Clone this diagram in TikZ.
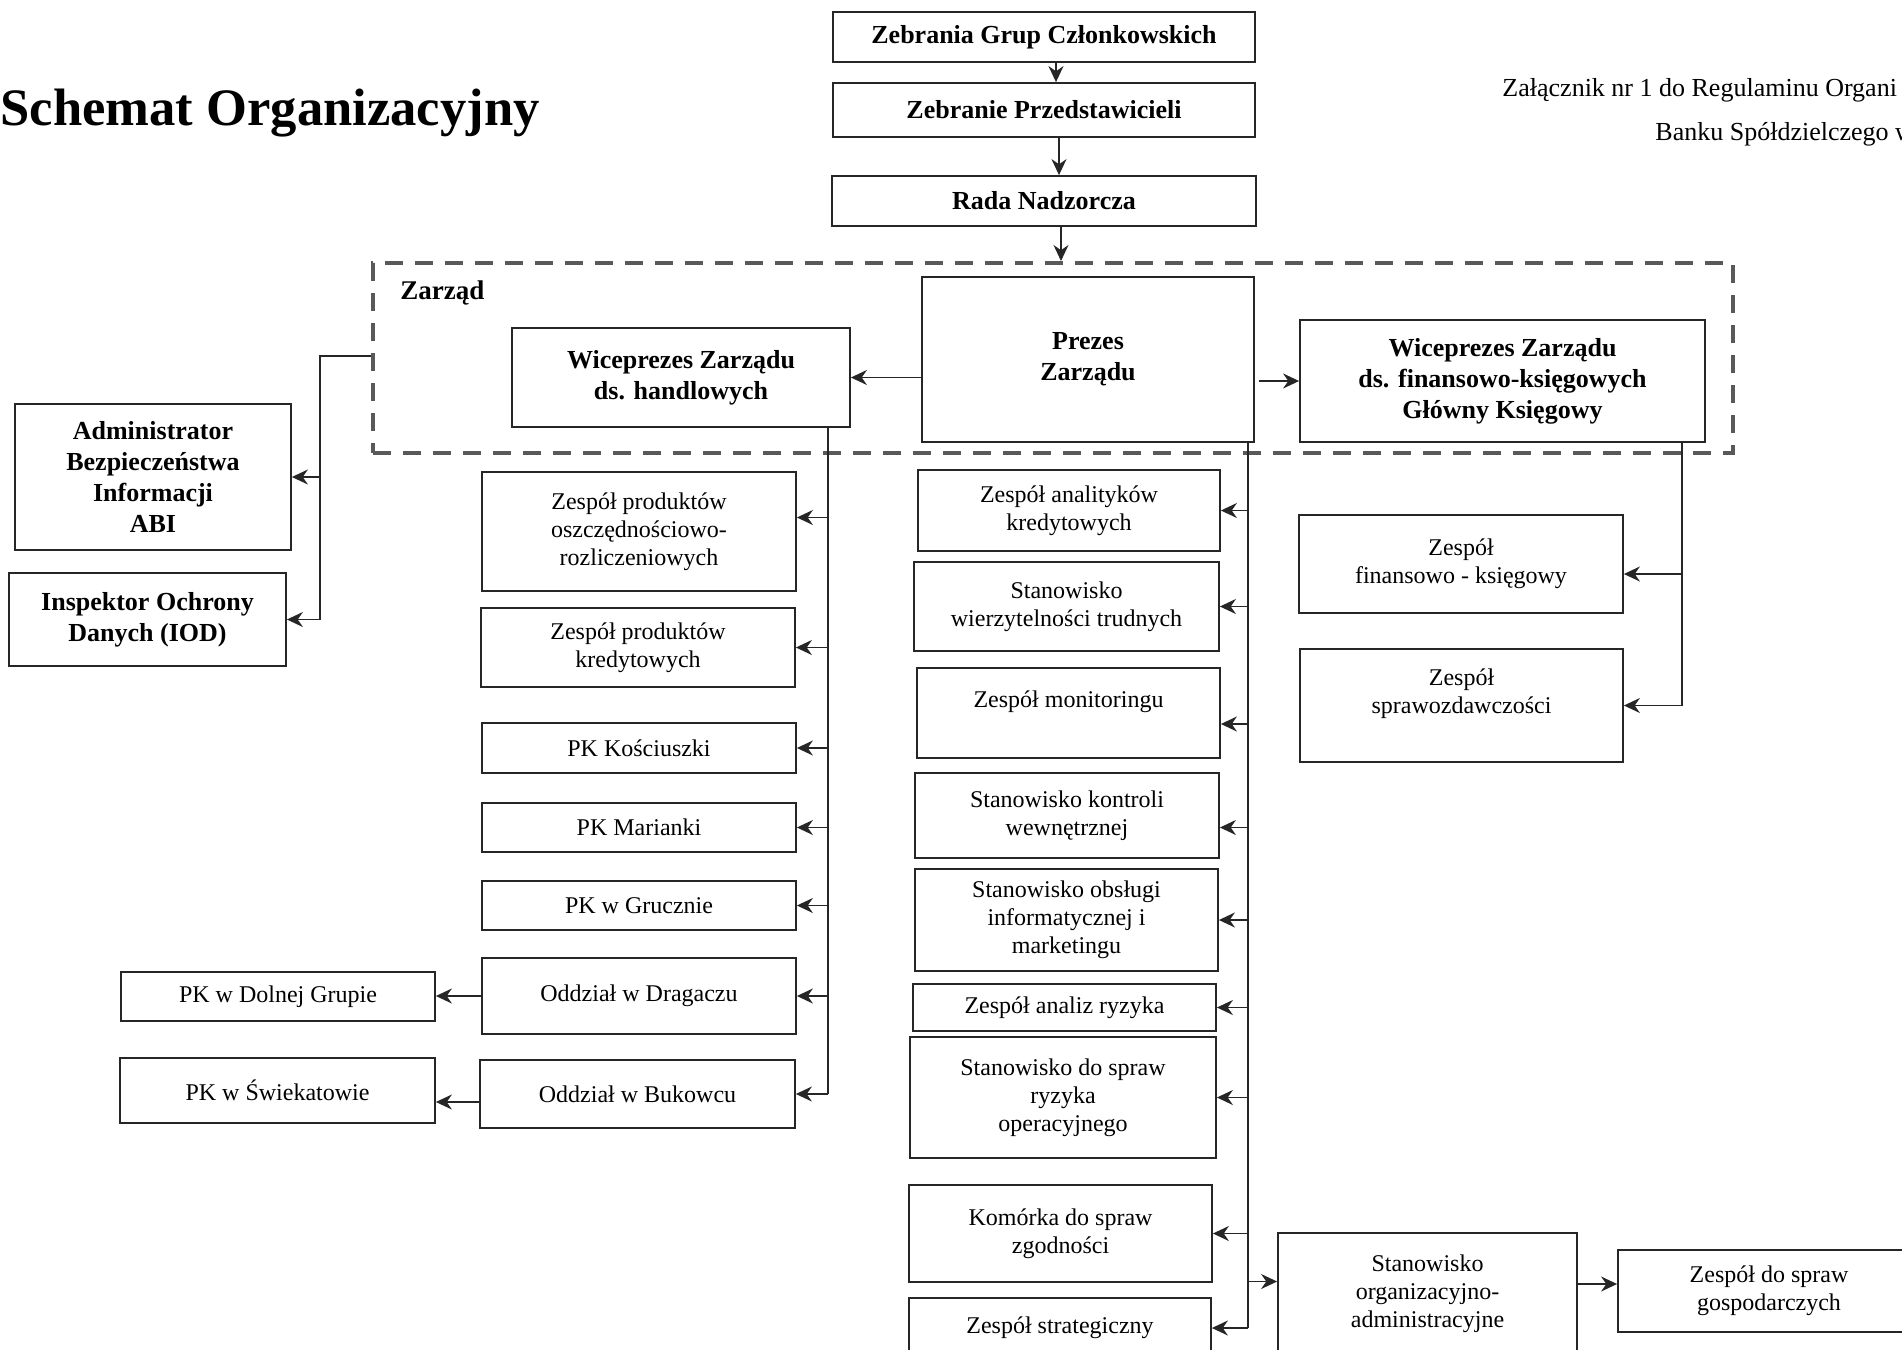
\documentclass[tikz,border=0pt]{standalone}
\usepackage{fontspec}
\setmainfont{Liberation Serif}
\usepackage{tikz}
\usetikzlibrary{arrows.meta,positioning}

\begin{document}
\begin{tikzpicture}[>={Stealth[length=8pt,width=7.5pt]},x=0.5pt,y=-0.5pt,
                    line width=0.8pt,draw=black!85]
  \tikzstyle{box}=[draw=black!85,line width=0.9pt,align=center,inner sep=2pt,
                   font=\fontsize{12}{14}\selectfont]
  \tikzstyle{bbox}=[box,font=\bfseries\fontsize{13}{15.5}\selectfont]
  \tikzstyle{dashbox}=[draw=black!65,line width=2pt,dash pattern=on 9pt off 6pt]

  \useasboundingbox (0,0) rectangle (1902,1350);
  \clip (0,0) rectangle (1902,1350);

  % headings
  \node[anchor=base west,font=\bfseries\fontsize{26.3}{31}\selectfont] (title) at (-7,125) {Schemat Organizacyjny};
  \node[anchor=base west,font=\fontsize{13}{15}\selectfont] (zal) at (1495,96) {Załącznik nr 1 do Regulaminu Organi};
  \node[anchor=base west,font=\fontsize{13}{15}\selectfont] (bank) at (1648,140) {Banku Spółdzielczego w};

  % top
  \node[bbox,minimum width=211pt,minimum height=25pt] (zgc) at (1044,37) {Zebrania Grup Członkowskich};
  \node[bbox,minimum width=211pt,minimum height=27pt] (zp) at (1044,110) {Zebranie Przedstawicieli};
  \node[bbox,minimum width=212pt,minimum height=25pt] (rn) at (1044,201) {Rada Nadzorcza};

  % zarzad
  \node[dashbox,minimum width=680pt,minimum height=95pt] (zarzad) at (1053,358) {};
  \node[anchor=base west,font=\bfseries\fontsize{13.5}{16}\selectfont] (zarzadT) at (393,299) {Zarząd};
  \node[bbox,minimum width=169pt,minimum height=49.5pt] (hand) at (681,377.5) {Wiceprezes Zarządu\\ds. handlowych};
  \node[bbox,minimum width=166pt,minimum height=82.5pt] (prezes) at (1088,359.5) {Prezes\\Zarządu};
  \node[bbox,minimum width=202.5pt,minimum height=61pt] (fin) at (1502.5,381) {Wiceprezes Zarządu\\ds. finansowo-księgowych\\Główny Księgowy};

  % ABI / IOD
  \node[bbox,minimum width=138pt,minimum height=73pt] (abi) at (153,477) {Administrator\\Bezpieczeństwa\\Informacji\\ABI};
  \node[bbox,minimum width=138.5pt,minimum height=46.5pt] (iod) at (147.5,619.5) {Inspektor Ochrony\\Danych (IOD)};

  % handlowe
  \node[box,minimum width=157pt,minimum height=59.5pt] (zpo) at (639,531.5) {Zespół produktów\\oszczędnościowo-\\rozliczeniowych};
  \node[box,minimum width=157pt,minimum height=39.5pt] (zpk) at (638,647.5) {Zespół produktów\\kredytowych};
  \node[box,minimum width=157pt,minimum height=25pt] (pkk) at (639,748) {PK Kościuszki};
  \node[box,minimum width=157pt,minimum height=24.5pt] (pkm) at (639,827.5) {PK Marianki};
  \node[box,minimum width=157pt,minimum height=24.5pt] (pkg) at (639,905.5) {PK w Grucznie};
  \node[box,minimum width=157pt,minimum height=38pt] (odd) at (639,996) {Oddział w Dragaczu};
  \node[box,minimum width=157.5pt,minimum height=34pt] (odb) at (637.5,1094) {Oddział w Bukowcu};
  \node[box,minimum width=157pt,minimum height=24.5pt] (pkdg) at (278,996.5) {PK w Dolnej Grupie};
  \node[box,minimum width=157.5pt,minimum height=32.5pt] (pks) at (277.5,1090.5) {PK w Świekatowie};

  % prezes
  \node[box,minimum width=151pt,minimum height=40.5pt] (zak) at (1069,510.5) {Zespół analityków\\kredytowych};
  \node[box,minimum width=152.5pt,minimum height=44.5pt] (swt) at (1066.5,606.5) {Stanowisko\\wierzytelności trudnych};
  \node[box,minimum width=151.5pt,minimum height=45pt] (zm) at (1068.5,713) {Zespół monitoringu\\\mbox{}};
  \node[box,minimum width=152pt,minimum height=42.5pt] (skw) at (1067,815.5) {Stanowisko kontroli\\wewnętrznej};
  \node[box,minimum width=151.5pt,minimum height=51pt] (soi) at (1066.5,920) {Stanowisko obsługi\\informatycznej i\\marketingu};
  \node[box,minimum width=151.5pt,minimum height=23.5pt] (zar) at (1064.5,1007.5) {Zespół analiz ryzyka};
  \node[box,minimum width=153pt,minimum height=60.5pt] (sro) at (1063,1097.5) {Stanowisko do spraw\\ryzyka\\operacyjnego};
  \node[box,minimum width=151.5pt,minimum height=48.5pt] (kz) at (1060.5,1233.5) {Komórka do spraw\\zgodności};
  \node[box,minimum width=151pt,minimum height=30pt] (zs) at (1060,1328) {Zespół strategiczny};
  \node[box,minimum width=149.5pt,minimum height=60.5pt] (soa) at (1427.5,1293.5) {Stanowisko\\organizacyjno-\\administracyjne};
  \node[box,minimum width=151pt,minimum height=41pt] (zsg) at (1769,1291) {Zespół do spraw\\gospodarczych};

  % finanse
  \node[box,minimum width=162pt,minimum height=49pt] (zfk) at (1461,564) {Zespół\\finansowo - księgowy};
  \node[box,minimum width=161.5pt,minimum height=56.5pt] (zsp) at (1461.5,705.5) {Zespół\\sprawozdawczości\\\mbox{}};

  % trunks
  \coordinate (aT) at (320,356);
  \coordinate (hT) at (828,0);
  \coordinate (pT) at (1248,0);
  \coordinate (fT) at (1682,0);
  \coordinate (zpoIn) at ([yshift=7pt]zpo.east);
  \coordinate (zmIn) at ([yshift=-5.5pt]zm.east);
  \coordinate (skwIn) at ([yshift=-6pt]skw.east);
  \coordinate (zfkIn) at ([yshift=-5pt]zfk.east);
  \coordinate (soaIn) at ([yshift=6pt]soa.west);
  \coordinate (zsgIn) at ([yshift=3.5pt]zsg.west);

  \path[->] ([xshift=6pt]zgc.south) edge ([xshift=6pt]zgc.south |- zp.north)
            ([xshift=7.5pt]zp.south) edge ([xshift=7.5pt]zp.south |- rn.north)
            ([xshift=8.5pt]rn.south) edge ([xshift=8.5pt]rn.south |- zarzad.north)
            (prezes.west |- hand.east) edge (hand.east)
            ([xshift=2pt]prezes.east |- fin.west) edge (fin.west);

  \draw (zarzad.west |- aT) -- (aT) -- (aT |- iod.east);
  \path[->] (aT |- abi.east) edge (abi.east)
            (aT |- iod.east) edge (iod.east);

  \draw (hT |- hand.south) -- (hT |- odb.east);
  \path[->] (hT |- zpoIn) edge (zpoIn)
            (hT |- zpk.east) edge (zpk.east)
            (hT |- pkk.east) edge (pkk.east)
            (hT |- pkm.east) edge (pkm.east)
            (hT |- pkg.east) edge (pkg.east)
            (hT |- odd.east) edge (odd.east)
            (hT |- odb.east) edge (odb.east)
            (odd.west) edge (odd.west -| pkdg.east)
            ([yshift=-4pt]odb.west) edge ([yshift=-4pt]odb.west -| pks.east);

  \draw (pT |- prezes.south) -- (pT |- zs.east);
  \path[->] (pT |- zak.east) edge (zak.east)
            (pT |- swt.east) edge (swt.east)
            (pT |- zmIn) edge (zmIn)
            (pT |- skwIn) edge (skwIn)
            (pT |- soi.east) edge (soi.east)
            (pT |- zar.east) edge (zar.east)
            (pT |- sro.east) edge (sro.east)
            (pT |- kz.east) edge (kz.east)
            (pT |- zs.east) edge (zs.east)
            (pT |- soaIn) edge (soaIn)
            (soa.east |- zsgIn) edge (zsgIn);

  \draw (fT |- fin.south) -- (fT |- zsp.east);
  \path[->] (fT |- zfkIn) edge (zfkIn)
            (fT |- zsp.east) edge (zsp.east);
\end{tikzpicture}
\end{document}
